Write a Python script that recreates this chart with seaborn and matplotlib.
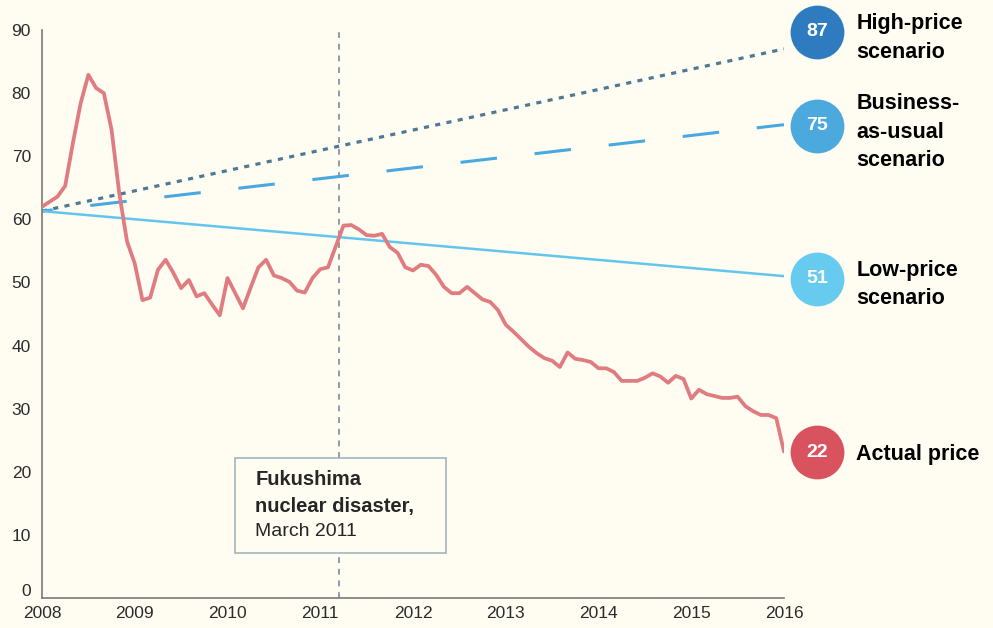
import numpy as np
import pandas as pd
import matplotlib
matplotlib.use("Agg")
import matplotlib.pyplot as plt
import matplotlib.transforms as mtransforms
from matplotlib.patches import Rectangle
import seaborn as sns

actual_price = [
    62.0, 62.8, 63.6, 65.3, 72.1, 78.4, 82.9, 80.8, 80.0, 74.2, 64.1, 56.5,
    53.0, 47.2, 47.6, 52.0, 53.6, 51.5, 49.1, 50.4, 47.8, 48.3, 46.5, 44.8,
    50.7, 48.3, 45.9, 49.2, 52.4, 53.6, 51.1, 50.7, 50.1, 48.7, 48.4, 50.7,
    52.1, 52.4, 55.7, 59.0, 59.1, 58.4, 57.5, 57.4, 57.7, 55.6, 54.7, 52.4,
    51.9, 52.8, 52.6, 51.2, 49.3, 48.3, 48.3, 49.3, 48.3, 47.3, 46.9, 45.6,
    43.3, 42.2, 41.0, 39.8, 38.8, 38.0, 37.6, 36.6, 38.9, 37.9, 37.7, 37.4,
    36.4, 36.4, 35.8, 34.4, 34.4, 34.4, 34.9, 35.6, 35.1, 34.1, 35.2, 34.7,
    31.6, 33.0, 32.3, 32.0, 31.7, 31.7, 31.9, 30.4, 29.6, 29.0, 29.0, 28.5,
    23.2,
]
start_year = 2008

# Escenarios: recta desde 2008 hasta 2016
scenario_years = [2008, 2016]
scenario_start = 61.3
scenario_end = [87, 75, 51]
scenario_labels = ["High-price\nscenario", "Business-\nas-usual\nscenario", "Low-price\nscenario"]

badge_values = [87, 75, 51, 22]
badge_labels = scenario_labels + ["Actual price"]
year_ticks = list(range(2008, 2017))
y_ticks = list(range(0, 91, 10))

bg = "#fffcf2"
red = "#e07b80"
scen_colors = ["#4d7995", "#4aa8e0", "#62c6ec"]
badge_colors = ["#2f7bbf", "#4ba9dd", "#67caef", "#d9535f"]

sns.set_style("white")
plt.rcParams["font.family"] = ["Liberation Sans", "DejaVu Sans"]

fig = plt.figure(figsize=(9.93, 6.28), dpi=100, facecolor=bg)
ax = fig.add_axes([42 / 993, 30 / 628, (784 - 42) / 993, (598 - 30) / 628])
ax.set_facecolor(bg)

# linea vertical de Fukushima
ax.axvline(2011.2, ymin=0, ymax=1, color="#8d9ca8", lw=1.4, linestyle=(0, (3, 3)), zorder=1)

# escenarios
estilos = [(0, (1.6, 2.0)), (8.5, (12, 12.4)), "-"]
anchos = [2.3, 2.2, 1.8]
for end, col, ls, lw in zip(scenario_end, scen_colors, estilos, anchos):
    d = pd.DataFrame({"year": scenario_years, "value": [scenario_start, end]})
    sns.lineplot(data=d, x="year", y="value", color=col, linestyle=ls, lw=lw, ax=ax, zorder=2)

# precio real
df = pd.DataFrame({
    "year": start_year + np.arange(len(actual_price)) / 12,
    "price": actual_price,
})
sns.lineplot(data=df, x="year", y="price", color=red, lw=2.7, ax=ax, zorder=3)

ax.set_xlim(2008, 2016)
ax.set_ylim(0, 90)
ax.set_xticks(year_ticks)
ax.set_yticks(y_ticks)
ax.set_xlabel("")
ax.set_ylabel("")
for s in ["top", "right"]:
    ax.spines[s].set_visible(False)
for s in ["left", "bottom"]:
    ax.spines[s].set_color("#7a7a7a")
    ax.spines[s].set_linewidth(1.2)
ax.tick_params(axis="both", direction="in", length=8, width=1, color="#7a7a7a",
               labelsize=12.5, labelcolor="#2b2b2b")
ax.tick_params(axis="y", pad=8)
ax.tick_params(axis="x", pad=6)

# el 0 va un poco más arriba para no chocar con 2008
cero = ax.get_yticklabels()[0]
cero.set_transform(cero.get_transform() + mtransforms.ScaledTranslation(0, 6 / 72, fig.dpi_scale_trans))

# cuadro de Fukushima
ax.add_patch(Rectangle((2010.084, 7.1), 2.268, 15.1, facecolor=bg, edgecolor="#a3b4c0",
                       lw=1.2, zorder=4))
ax.text(2010.3, 18.8, "Fukushima", fontsize=14.5, fontweight="bold", va="center", zorder=5)
ax.text(2010.3, 14.5, "nuclear disaster,", fontsize=14.5, fontweight="bold", va="center", zorder=5)
ax.text(2010.3, 10.5, "March 2011", fontsize=14, va="center", zorder=5)

# circulos con valores finales
badge_y = [89.7, 74.8, 50.6, 23.1]
for v, y, col, lab in zip(badge_values, badge_y, badge_colors, badge_labels):
    ax.scatter([2016.36], [y], s=1500, color=col, clip_on=False, zorder=6, linewidths=0)
    ax.text(2016.36, y, str(v), color="white", fontsize=14, fontweight="bold",
            ha="center", va="center", clip_on=False, zorder=7)
    ax.text(2016.78, y, lab, color="black", fontsize=15.5, fontweight="bold",
            ha="left", va="center_baseline", linespacing=1.45, clip_on=False, zorder=7)

fig.savefig("out.png", dpi=100, facecolor=bg)
